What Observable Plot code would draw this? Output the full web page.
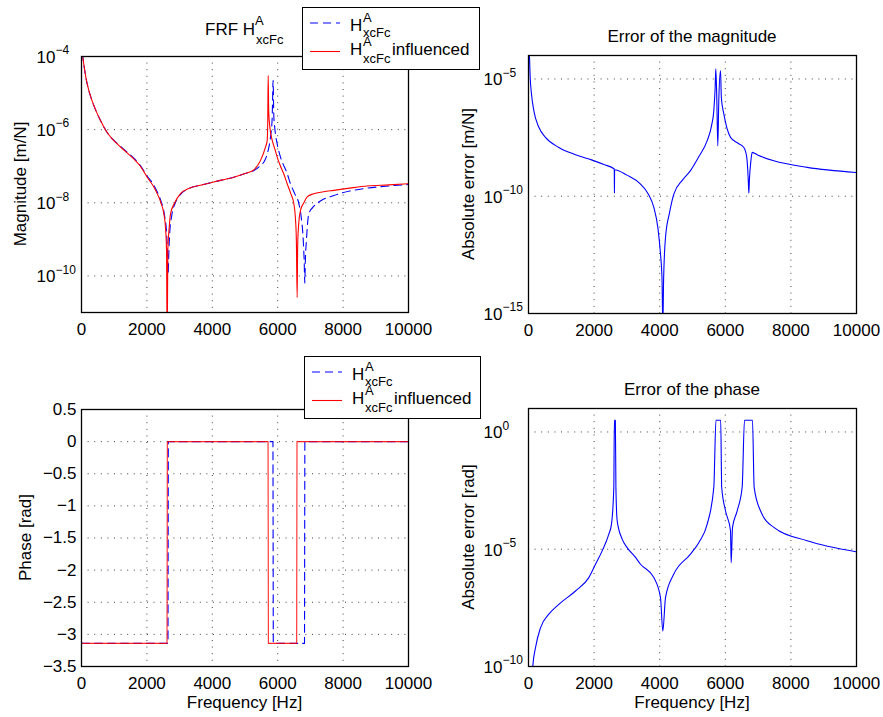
<!DOCTYPE html>
<html>
<head>
<meta charset="utf-8">
<script src="https://cdn.jsdelivr.net/npm/d3@7"></script>
<script src="https://cdn.jsdelivr.net/npm/@observablehq/plot@0.6"></script>
<style>
  html, body { margin: 0; padding: 0; background: #fff; }
  #fig { position: relative; width: 883px; height: 717px; background: #fff; overflow: hidden;
         font-family: "Liberation Sans", Arial, Helvetica, sans-serif; }
  .panel { position: absolute; }
  #overlay { position: absolute; left: 0; top: 0; z-index: 5; pointer-events: none; }
</style>
</head>
<body>
<div id="fig">
  <div class="panel" id="p1" style="left:0;top:0"></div>
  <div class="panel" id="p2" style="left:441px;top:0"></div>
  <div class="panel" id="p3" style="left:0;top:350px"></div>
  <div class="panel" id="p4" style="left:441px;top:350px"></div>
</div>
<script>
// ---------------- data ----------------
const freqTicks = [0, 2000, 4000, 6000, 8000, 10000];
const magTicks = [1e-10, 1e-8, 1e-6, 1e-4];
const magErrTicks = [1e-15, 1e-10, 1e-5];
const phaseTicks = [0.5, 0, -0.5, -1, -1.5, -2, -2.5, -3, -3.5];
const phaseErrTicks = [1e-10, 1e-5, 1];

// magnitude, [frequency Hz, log10 |H| in m/N]
const magReference = [[20,-3.9],[60,-4.15],[120,-4.5],[174,-4.75],[300,-5.15],[450,-5.5],[581,-5.75],[800,-6.1],
  [1091,-6.38],[1350,-6.58],[1600,-6.78],[1800,-6.98],[2008,-7.27],[2200,-7.5],[2315,-7.7],[2430,-7.95],[2540,-8.35],
  [2600,-8.8],[2630,-9.4],[2650,-9.93],[2670,-9.4],[2700,-8.8],[2760,-8.35],[2870,-8.0],[3028,-7.77],[3300,-7.6],
  [3639,-7.52],[4100,-7.42],[4658,-7.3],[5000,-7.2],[5270,-7.12],[5450,-7.0],[5600,-6.85],[5700,-6.6],[5780,-6.2],
  [5830,-5.7],[5860,-4.65],[5880,-5.6],[5910,-5.95],[5984,-6.39],[6086,-6.75],[6290,-7.2],[6391,-7.48],[6520,-7.75],
  [6646,-8.02],[6720,-8.4],[6780,-9.0],[6810,-9.6],[6829,-10.2],[6845,-9.6],[6880,-9.0],[6952,-8.3],[7100,-8.1],
  [7309,-7.95],[7717,-7.8],[8200,-7.68],[8736,-7.6],[9400,-7.54],[10000,-7.5]];
const magInfluenced = [[20,-3.9],[60,-4.15],[120,-4.5],[174,-4.75],[300,-5.15],[450,-5.5],[581,-5.75],[800,-6.1],
  [1091,-6.39],[1350,-6.6],[1600,-6.8],[1800,-7.0],[2008,-7.3],[2200,-7.55],[2315,-7.75],[2430,-8.0],[2518,-8.3],
  [2570,-8.7],[2600,-9.3],[2620,-12],[2640,-9.3],[2680,-8.7],[2722,-8.3],[2850,-8.0],[3028,-7.75],[3300,-7.6],
  [3639,-7.52],[4100,-7.42],[4658,-7.3],[5000,-7.2],[5270,-7.1],[5474,-6.84],[5627,-6.48],[5678,-6.3],[5695,-5.8],
  [5709,-4.52],[5725,-5.5],[5760,-5.93],[5850,-6.35],[5920,-6.55],[5984,-6.75],[6086,-7.0],[6190,-7.22],[6290,-7.48],
  [6400,-7.75],[6493,-8.02],[6540,-8.4],[6570,-9.0],[6595,-10.59],[6610,-9.2],[6640,-8.6],[6700,-8.2],[6800,-8.0],
  [6901,-7.84],[7100,-7.75],[7400,-7.7],[7717,-7.66],[8200,-7.6],[8736,-7.54],[9400,-7.51],[10000,-7.48]];

// phase, [frequency Hz, phase rad]
const phaseReference = [[0,-3.14],[2645,-3.14],[2655,0],[5855,0],[5865,-3.14],[6820,-3.14],[6830,0],[10000,0]];
const phaseInfluenced = [[0,-3.14],[2615,-3.14],[2625,0],[5705,0],[5715,-3.14],[6580,-3.14],[6590,0],[10000,0]];

// absolute error of magnitude, [frequency Hz, log10 error m/N]
const magError = [[18,-3.9],[30,-4.07],[51,-4.93],[91,-5.64],[162,-6.35],[315,-7.06],[518,-7.49],[925,-7.92],
  [1433,-8.23],[1941,-8.46],[2300,-8.65],[2615,-8.84],[2620,-9.87],[2625,-8.87],[3000,-9.1],[3415,-9.48],[3650,-9.9],
  [3821,-10.48],[3950,-11.4],[4024,-12.46],[4070,-13.5],[4095,-15.5],[4120,-13.5],[4177,-11.76],[4300,-10.7],
  [4431,-9.91],[4700,-9.3],[4939,-8.91],[5200,-8.3],[5448,-7.63],[5580,-7.0],[5650,-6.35],[5690,-5.4],[5711,-4.57],
  [5740,-5.8],[5772,-7.85],[5800,-6.0],[5854,-4.64],[5880,-5.8],[5955,-6.49],[6050,-7.1],[6159,-7.49],[6400,-7.75],
  [6565,-7.92],[6650,-8.3],[6700,-9.3],[6717,-9.87],[6735,-9.3],[6780,-8.5],[6819,-8.13],[7000,-8.25],[7480,-8.49],
  [8496,-8.77],[10000,-8.99]];

// absolute error of phase, [frequency Hz, log10 error rad]
const phaseError = [[120,-10.6],[132,-9.98],[213,-9.2],[366,-8.35],[620,-7.77],[925,-7.35],[1433,-6.78],[1839,-6.21],
  [2043,-5.64],[2246,-5.07],[2449,-4.36],[2530,-3.93],[2601,-2.36],[2618,0.497],[2648,0.497],[2665,-2.36],[2704,-3.79],
  [2856,-4.57],[3008,-4.93],[3262,-5.35],[3415,-5.64],[3821,-6.21],[4024,-7.06],[4095,-8.49],[4177,-7.06],[4431,-6.06],
  [4939,-5.21],[5200,-4.7],[5448,-3.93],[5650,-2.36],[5715,0.497],[5860,0.497],[5890,-2.36],[6006,-3.36],[6159,-4.21],
  [6179,-5.57],[6220,-4.07],[6362,-3.36],[6514,-2.36],[6585,0.497],[6829,0.497],[6880,-2.36],[7073,-3.36],[7480,-4.07],
  [8496,-4.64],[10000,-5.11]];

// ---------------- styling ----------------
const FONT = '"Liberation Sans", Arial, Helvetica, sans-serif';
const BLUE = "#0000ff", RED = "#ff0000";
const gridStyle = {stroke: "#000", strokeOpacity: 0.75, strokeDasharray: "1,5.6", strokeWidth: 1};
const minus = (s) => String(s).replace("-", "\u2212");
const expLabel = (d) => minus(Math.round(Math.log10(d)));
const logRows = (arr) => arr.map(([f, e]) => ({f, v: 10 ** e}));
const linRows = (arr) => arr.map(([f, v]) => ({f, v}));

function base(w, h, m) {
  return {
    width: w, height: h,
    marginLeft: m[0], marginRight: m[1], marginTop: m[2], marginBottom: m[3],
    style: {fontFamily: FONT, fontSize: "17px", color: "#000", background: "transparent", overflow: "visible"},
    x: {domain: [0, 10000]}
  };
}
function xAxis() {
  return Plot.axisX(freqTicks, {tickSize: 0, tickPadding: 10, tickFormat: (d) => String(d), label: null, fontSize: 17});
}
function logYAxis(ticks) {
  return [
    Plot.axisY(ticks, {tickSize: 0, tickPadding: 26, tickFormat: () => "10", label: null, fontSize: 17, dy: 1}),
    Plot.text(ticks, {y: (d) => d, text: expLabel, frameAnchor: "left", textAnchor: "start", dx: -26, dy: -6, fontSize: 12})
  ];
}
const frame = Plot.frame({stroke: "#000", strokeWidth: 1.3});
const smooth = {curve: "monotone-x", strokeWidth: 1.1, clip: true};

// Panel 1: FRF magnitude
document.getElementById("p1").append(Plot.plot({
  ...base(441, 350, [81, 33, 56, 38]),
  y: {type: "log", domain: [1e-11, 1e-4]},
  marks: [
    Plot.gridX(freqTicks, gridStyle),
    Plot.gridY(magTicks, gridStyle),
    Plot.line(logRows(magReference), {x: "f", y: "v", stroke: BLUE, strokeDasharray: "8,5", ...smooth}),
    Plot.line(logRows(magInfluenced), {x: "f", y: "v", stroke: RED, ...smooth}),
    frame, xAxis(), ...logYAxis(magTicks)
  ]
}));

// Panel 2: error of magnitude
document.getElementById("p2").append(Plot.plot({
  ...base(442, 350, [87, 27, 55, 37]),
  y: {type: "log", domain: [1e-15, 1e-4]},
  marks: [
    Plot.gridX(freqTicks, gridStyle),
    Plot.gridY(magErrTicks, gridStyle),
    Plot.line(logRows(magError), {x: "f", y: "v", stroke: BLUE, ...smooth}),
    frame, xAxis(), ...logYAxis(magErrTicks)
  ]
}));

// Panel 3: phase
document.getElementById("p3").append(Plot.plot({
  ...base(441, 367, [81, 33, 59, 51]),
  y: {domain: [-3.5, 0.5]},
  marks: [
    Plot.gridX(freqTicks, gridStyle),
    Plot.gridY(phaseTicks, gridStyle),
    Plot.line(linRows(phaseReference), {x: "f", y: "v", stroke: BLUE, strokeWidth: 1.1, strokeDasharray: "8,5", clip: true}),
    Plot.line(linRows(phaseInfluenced), {x: "f", y: "v", stroke: RED, strokeWidth: 1.1, strokeOpacity: 0.85, clip: true}),
    frame, xAxis(),
    Plot.axisY(phaseTicks, {tickSize: 0, tickPadding: 5, tickFormat: (d) => minus(d), label: null, fontSize: 17})
  ]
}));

// Panel 4: error of phase
document.getElementById("p4").append(Plot.plot({
  ...base(442, 367, [87, 27, 58, 51]),
  y: {type: "log", domain: [1e-10, 10]},
  marks: [
    Plot.gridX(freqTicks, gridStyle),
    Plot.gridY(phaseErrTicks, gridStyle),
    Plot.line(logRows(phaseError), {x: "f", y: "v", stroke: BLUE, ...smooth}),
    frame, xAxis(), ...logYAxis(phaseErrTicks)
  ]
}));

// ---------------- titles, axis labels, legends (overlay) ----------------
const NS = "http://www.w3.org/2000/svg";
const ov = document.createElementNS(NS, "svg");
ov.setAttribute("id", "overlay");
ov.setAttribute("width", 883);
ov.setAttribute("height", 717);
ov.style.fontFamily = FONT;
document.getElementById("fig").append(ov);
function el(name, attrs, text) {
  const e = document.createElementNS(NS, name);
  for (const k in attrs) e.setAttribute(k, attrs[k]);
  if (text != null) e.textContent = text;
  ov.append(e);
  return e;
}
function txt(x, y, s, size = 17, anchor = "start", extra = {}) {
  return el("text", {x, y, "font-size": size, "text-anchor": anchor, fill: "#000", ...extra}, s);
}

// titles
txt(205, 35, "FRF H");
txt(255, 25, "A", 13);
txt(256, 43.5, "xcFc", 13);
txt(692, 41.5, "Error of the magnitude", 17, "middle");
txt(692, 395, "Error of the phase", 17, "middle");

// axis labels
txt(0, 0, "Magnitude [m/N]", 17, "middle", {transform: "translate(25.5,184) rotate(-90)"});
txt(0, 0, "Absolute error [m/N]", 17, "middle", {transform: "translate(473.5,184) rotate(-90)"});
txt(0, 0, "Phase [rad]", 17, "middle", {transform: "translate(30.5,537.5) rotate(-90)"});
txt(0, 0, "Absolute error [rad]", 17, "middle", {transform: "translate(473.5,537) rotate(-90)"});
txt(244.5, 707.5, "Frequency [Hz]", 17, "middle");
txt(692, 707.5, "Frequency [Hz]", 17, "middle");

// legends
const legendSeries = ["reference", "influenced"];
function legend(x0, y0, w, h) {
  el("rect", {x: x0 + 0.5, y: y0 + 0.5, width: w, height: h, fill: "#fff", stroke: "#000", "stroke-width": 1});
  const rows = [
    {line: 16, base: 23.5, sup: -9, sub: 6.5, dash: "8,5", color: BLUE},
    {line: 44.5, base: 48, sup: -9.5, sub: 8.3, dash: null, color: RED}
  ];
  legendSeries.forEach((name, i) => {
    const r = rows[i];
    const a = {x1: x0 + 8, x2: x0 + 38, y1: y0 + r.line, y2: y0 + r.line, stroke: r.color, "stroke-width": 1.1};
    if (r.dash) a["stroke-dasharray"] = r.dash;
    el("line", a);
    const by = y0 + r.base;
    txt(x0 + 48, by, "H");
    txt(x0 + 61, by + r.sup, "A", 13);
    txt(x0 + 61, by + r.sub, "xcFc", 13);
    if (name === "influenced") txt(x0 + 90, by, "influenced");
  });
}
legend(302, 7, 177, 62);
legend(304, 356, 176, 62);
</script>
</body>
</html>
